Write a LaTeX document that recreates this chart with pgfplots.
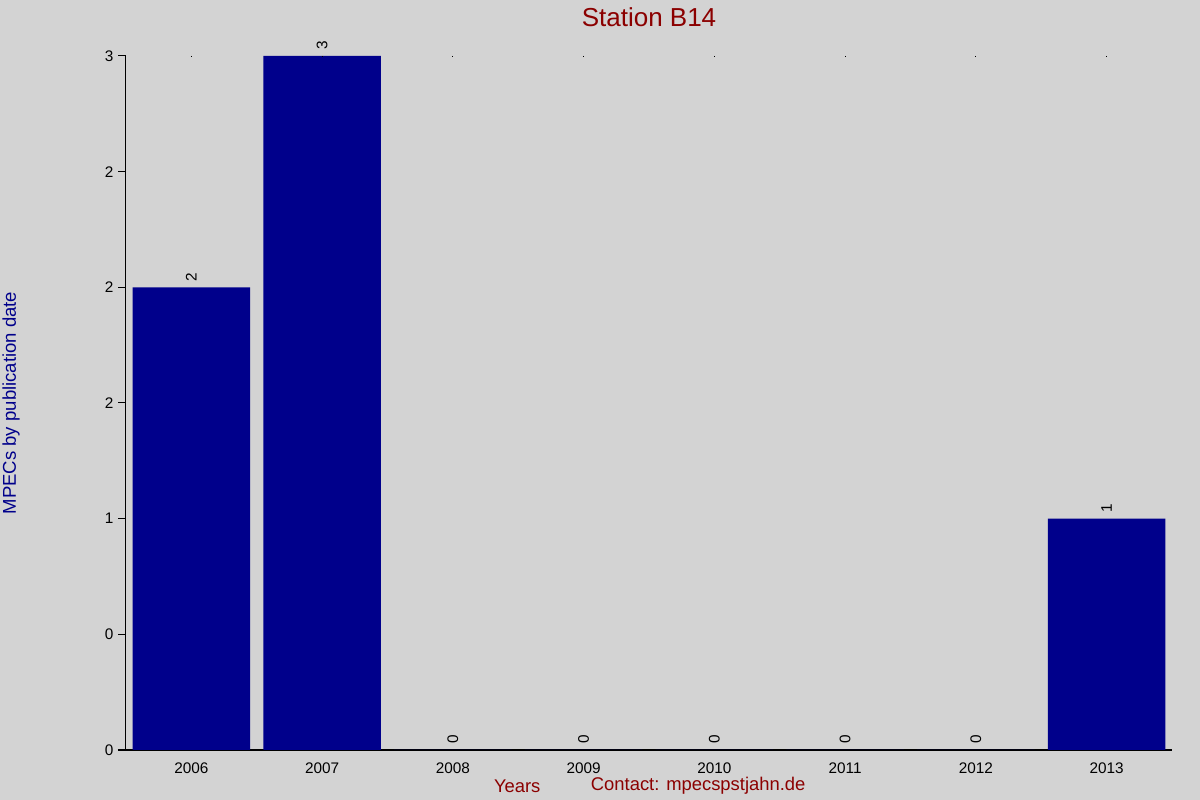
\documentclass[border=0pt]{standalone}
\usepackage{fontspec}
\setmainfont{Liberation Sans}
\usepackage{pgfplots}
\pgfplotsset{compat=1.18}
\definecolor{bg}{HTML}{D3D3D3}
\definecolor{barblue}{HTML}{00008B}
\definecolor{darkred}{HTML}{8B0000}

\begin{document}
\begin{tikzpicture}
\useasboundingbox (0,0) rectangle (900pt,600pt);
\fill[bg] (0,0) rectangle (900pt,600pt);
\begin{axis}[
    at={(94.5pt,37.5pt)}, anchor=south west,
    scale only axis, width=784.5pt, height=520.5pt,
    xmin=-0.5, xmax=7.5, ymin=0, ymax=3,
    axis x line=bottom, axis y line=left,
    axis line style={-, line width=0.75pt},
    x axis line style={shorten <=-6pt},
    ybar, bar width=0.9, bar shift=0pt,
    xtick={0,1,2,3,4,5,6,7},
    xticklabels={2006,2007,2008,2009,2010,2011,2012,2013},
    ytick={0,0.5,1,1.5,2,2.5,3},
    yticklabels={0,0,1,2,2,2,3},
    x tick style={draw=none},
    y tick style={black, line width=0.75pt},
    tick align=outside, major tick length=6pt,
    /pgf/number format/assume math mode=true,
    ticklabel style={font=\fontsize{11.5}{13}\selectfont},
    title={Station B14},
    title style={at={(axis description cs:0.5,1)}, anchor=center, yshift=23.25pt,
        text=darkred, font=\fontsize{19.5}{22}\selectfont},
    ylabel={MPECs by publication date},
    ylabel style={at={(axis description cs:0,0.5)}, anchor=center, yshift=86.25pt,
        text=barblue, font=\fontsize{13.9}{16}\selectfont},
    xlabel={Years},
    xlabel style={at={(axis description cs:0.374,0)}, anchor=center, yshift=-27pt,
        text=darkred, font=\fontsize{13.8}{15}\selectfont},
    nodes near coords,
    nodes near coords style={rotate=90, anchor=west, inner sep=4.5pt,
        font=\fontsize{11.5}{13}\selectfont, text=black},
    clip=false,
]
\addplot[fill=barblue, draw=none] coordinates {
    (0,2) (1,3) (2,0) (3,0) (4,0) (5,0) (6,0) (7,1)
};
\node[text=darkred, font=\fontsize{13.8}{15}\selectfont, anchor=center]
    at (axis description cs:0.547,0) [yshift=-27pt] {Contact: mpecspstjahn.de};
\end{axis}
\begin{axis}[
    at={(94.5pt,37.5pt)}, anchor=south west,
    scale only axis, width=784.5pt, height=520.5pt,
    xmin=-0.5, xmax=7.5, ymin=0, ymax=3,
    axis x line=top, axis y line=none,
    x axis line style={draw=none},
    xtick={0,1,2,3,4,5,6,7}, xticklabels={},
    x tick style={black, line width=0.75pt},
    tick align=inside, major tick length=1pt,
]
\end{axis}
\end{tikzpicture}
\end{document}
